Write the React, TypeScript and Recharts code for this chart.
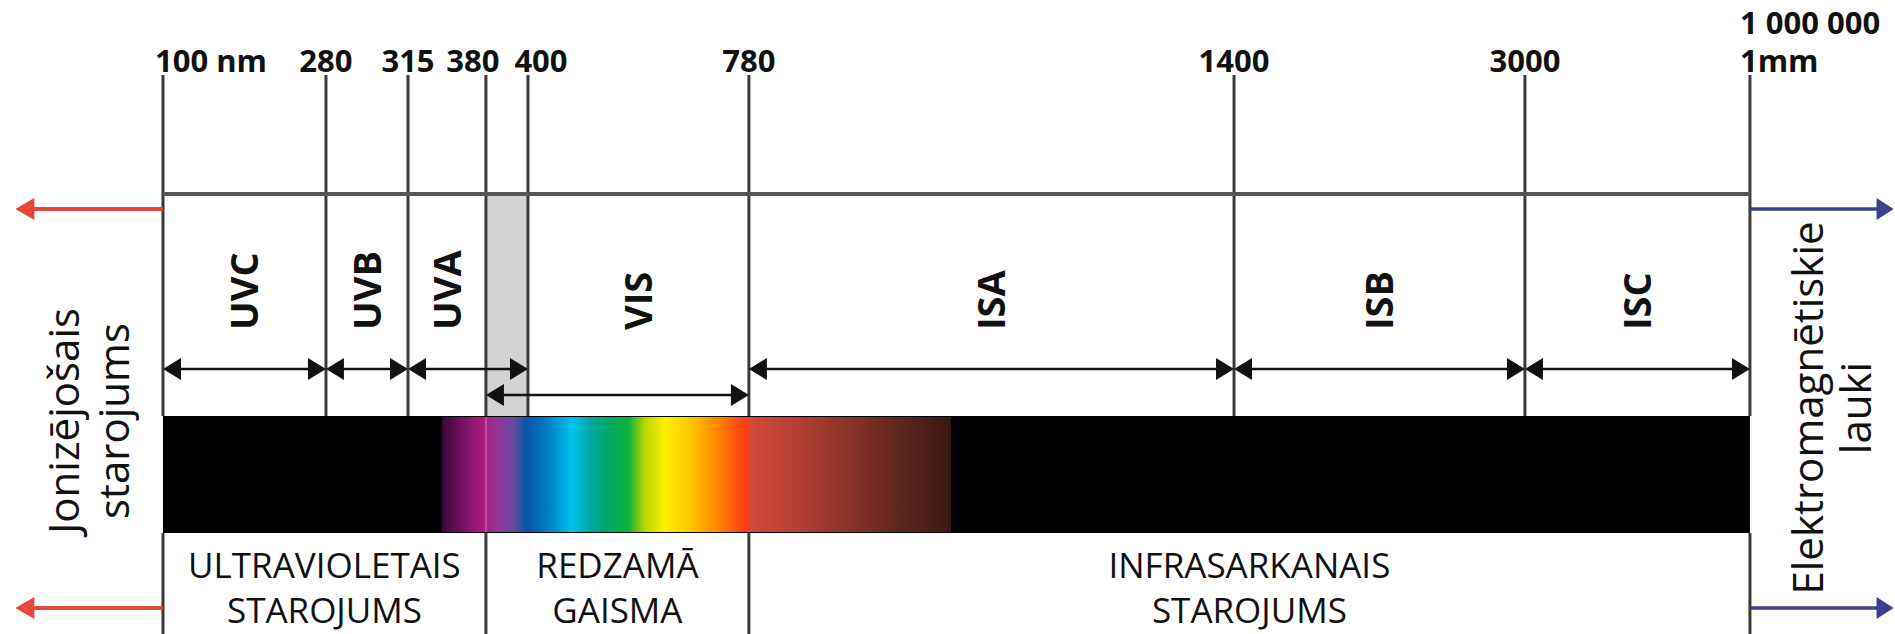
import {
  ComposedChart,
  Line,
  ReferenceArea,
  ReferenceDot,
  ReferenceLine,
  XAxis,
  YAxis,
} from "recharts";

// wavelength boundaries (nm) and where they sit on the schematic axis
// (percent of the 100 nm .. 1 mm span)
const boundaryNm = [100, 280, 315, 380, 400, 780, 1400, 3000, 1000000];
const boundaryPos = [0, 10.27, 15.44, 20.35, 23.0, 36.92, 67.49, 85.82, 100];
const boundaryLabel = ["100 nm", "280", "315", "380", "400", "780", "1400", "3000", "1 000 000|1mm"];
// boundaries whose line runs on below the spectrum bar
const dividerNm = [100, 380, 780, 1000000];

const bandName = ["UVC", "UVB", "UVA", "VIS", "ISA", "ISB", "ISC"];
const bandFromNm = [100, 280, 315, 380, 780, 1400, 3000];
const bandToNm = [280, 315, 400, 780, 1400, 3000, 1000000];
const overlapNm = [380, 400];

const regionText = [
  ["ULTRAVIOLETAIS", "STAROJUMS"],
  ["REDZAMĀ", "GAISMA"],
  ["INFRASARKANAIS", "STAROJUMS"],
];
const regionFromNm = [100, 380, 780];
const regionToNm = [380, 780, 1000000];

// colour stops of the spectrum strip (axis position, colour)
const spectrumStopPos = [
  17.58, 19.34, 20.23, 21.23, 22.18, 22.87, 24.07, 25.77, 26.91, 28.17, 29.3,
  30.37, 31.57, 33.21, 34.78, 36.36, 36.85, 36.95, 40.14, 43.29, 46.44, 49.65,
];
const spectrumStopColor = [
  "#3b0635", "#8a1670", "#a8197e", "#93389a", "#5d4aa0", "#0a55a8", "#0077c0",
  "#00c2ec", "#00a8a0", "#00a860", "#0bb23c", "#b8d600", "#fff000", "#ffc800",
  "#ff8c00", "#ff4a14", "#ff3a1c", "#d44a3a", "#b23e32", "#883228", "#5e261e", "#3a1812",
];

const leftCaption = ["Jonizējošais", "starojums"];
const rightCaption = ["Elektromagnētiskie", "lauki"];

// layout
const W = 1895;
const H = 634;
const X_DOMAIN = [-10.27, 109.14];
const TOP = 75;
const HEADER_Y = 194;
const SIDE_ARROW_Y = [209, 608];
const BAND_LABEL_Y = 330;
const BAND_ARROW_Y = 369;
const VIS_ARROW_Y = 395;
const BAR_TOP = 416;
const BAR_BOTTOM = 533;
const REGION_TEXT_Y = 578;
const FONT = "'Open Sans', 'DejaVu Sans', sans-serif";
const LINE_COLOR = "#3a3a3a";

const posOf = (nm: number) => boundaryPos[boundaryNm.indexOf(nm)];
const spectrumFrom = spectrumStopPos[0];
const spectrumTo = spectrumStopPos[spectrumStopPos.length - 1];

const headerData = boundaryPos.map((pos) => ({ pos, header: HEADER_Y }));

function arrowShape(color: string, width: number, headLen: number, headHalf: number, both: boolean) {
  return (p: any) => {
    const { x1, y1, x2, y2 } = p;
    const dir = Math.sign(x2 - x1) || 1;
    const sx = both ? x1 + dir * headLen * 0.8 : x1;
    const ex = x2 - dir * headLen * 0.8;
    return (
      <g>
        <line x1={sx} y1={y1} x2={ex} y2={y2} stroke={color} strokeWidth={width} />
        <polygon
          fill={color}
          points={`${x2},${y2} ${x2 - dir * headLen},${y2 - headHalf} ${x2 - dir * headLen},${y2 + headHalf}`}
        />
        {both && (
          <polygon
            fill={color}
            points={`${x1},${y1} ${x1 + dir * headLen},${y1 - headHalf} ${x1 + dir * headLen},${y1 + headHalf}`}
          />
        )}
      </g>
    );
  };
}

const bandArrow = arrowShape("#111", 2.6, 18, 11, true);
const redArrow = arrowShape("#e5473a", 4, 19, 11, false);
const blueArrow = arrowShape("#3b3f8c", 3.5, 17, 11, false);

function BoundaryTick(props: any) {
  const { x, payload } = props;
  const i = boundaryPos.indexOf(payload.value);
  if (i < 0) return null;
  const nm = boundaryNm[i];
  const [main, sub] = boundaryLabel[i].split("|");
  const style = { fontFamily: FONT, fontWeight: 700, fontSize: 31, fill: "#111" };
  if (sub) {
    return (
      <g>
        <text x={x - 10} y={34} textAnchor="start" style={style}>
          {main}
        </text>
        <text x={x - 10} y={72} textAnchor="start" style={style}>
          {sub}
        </text>
      </g>
    );
  }
  if (i === 0) {
    return (
      <text x={x - 8} y={72} textAnchor="start" style={style}>
        {main}
      </text>
    );
  }
  const nudge = nm === 380 ? -13 : nm === 400 ? 13 : 0;
  return (
    <text x={x + nudge} y={72} textAnchor="middle" style={style}>
      {main}
    </text>
  );
}

function rotatedCaption(lines: string[], gap: number) {
  return (p: any) => {
    const { cx, cy } = p;
    return (
      <text
        x={cx}
        y={cy}
        textAnchor="middle"
        transform={`rotate(-90 ${cx} ${cy})`}
        style={{ fontFamily: FONT, fontSize: 42, fill: "#111" }}
      >
        {lines.map((l, k) => (
          <tspan key={l} x={cx} dy={k === 0 ? 0 : gap}>
            {l}
          </tspan>
        ))}
      </text>
    );
  };
}

function bandLabel(name: string) {
  return (p: any) => {
    const { cx, cy } = p;
    const bx = cx + 14;
    return (
      <text
        x={bx}
        y={cy}
        textAnchor="start"
        transform={`rotate(-90 ${bx} ${cy})`}
        style={{ fontFamily: FONT, fontWeight: 700, fontSize: 38, fill: "#111" }}
      >
        {name}
      </text>
    );
  };
}

function regionLabel(lines: string[]) {
  return (p: any) => {
    const { cx, cy } = p;
    return (
      <text x={cx} y={cy} textAnchor="middle" style={{ fontFamily: FONT, fontSize: 35, fill: "#111" }}>
        {lines.map((l, k) => (
          <tspan key={k} x={cx} dy={k === 0 ? 0 : 45}>
            {l}
          </tspan>
        ))}
      </text>
    );
  };
}

export default function App() {
  return (
    <div style={{ position: "absolute", left: 0, top: 0, background: "#fff" }}>
      <ComposedChart width={W} height={H} data={headerData} margin={{ top: 0, right: 0, bottom: 0, left: 0 }}>
        <defs>
          <linearGradient id="spectrum" x1="0" x2="1" y1="0" y2="0">
            {spectrumStopPos.map((pos, k) => (
              <stop
                key={k}
                offset={(pos - spectrumFrom) / (spectrumTo - spectrumFrom)}
                stopColor={spectrumStopColor[k]}
              />
            ))}
          </linearGradient>
        </defs>
        <XAxis
          dataKey="pos"
          type="number"
          orientation="top"
          height={TOP}
          domain={X_DOMAIN}
          allowDataOverflow
          ticks={boundaryPos}
          interval={0}
          axisLine={false}
          tickLine={false}
          tick={<BoundaryTick />}
        />
        <YAxis type="number" domain={[TOP, H]} reversed hide allowDataOverflow />

        {/* overlap of UVA and visible light */}
        <ReferenceArea
          x1={posOf(overlapNm[0])}
          x2={posOf(overlapNm[1])}
          y1={HEADER_Y + 2}
          y2={BAR_TOP}
          fill="#d3d3d3"
          fillOpacity={1}
          stroke="none"
        />

        {/* boundary lines above the bar */}
        {boundaryPos.map((pos) => (
          <ReferenceLine
            key={`u${pos}`}
            segment={[
              { x: pos, y: TOP },
              { x: pos, y: BAR_TOP },
            ]}
            stroke={LINE_COLOR}
            strokeWidth={3}
          />
        ))}
        {/* region dividers below the bar */}
        {dividerNm.map((nm) => (
          <ReferenceLine
            key={`d${nm}`}
            segment={[
              { x: posOf(nm), y: BAR_BOTTOM },
              { x: posOf(nm), y: H },
            ]}
            stroke={LINE_COLOR}
            strokeWidth={3}
          />
        ))}

        <Line
          dataKey="header"
          stroke="#555"
          strokeWidth={4}
          dot={false}
          activeDot={false}
          isAnimationActive={false}
        />

        {/* spectrum bar */}
        <ReferenceArea x1={0} x2={100} y1={BAR_TOP} y2={BAR_BOTTOM} fill="#000" fillOpacity={1} stroke="none" />
        <ReferenceArea
          x1={spectrumFrom}
          x2={spectrumTo}
          y1={BAR_TOP + 1}
          y2={BAR_BOTTOM - 1}
          fill="url(#spectrum)"
          fillOpacity={1}
          stroke="none"
        />
        <ReferenceLine
          segment={[
            { x: posOf(overlapNm[0]), y: BAR_TOP + 1 },
            { x: posOf(overlapNm[0]), y: BAR_BOTTOM - 1 },
          ]}
          stroke="#d77cc4"
          strokeOpacity={0.7}
          strokeWidth={1.5}
        />

        {/* band extents */}
        {bandName.map((name, k) => (
          <ReferenceLine
            key={`a${name}`}
            segment={[
              { x: posOf(bandFromNm[k]), y: name === "VIS" ? VIS_ARROW_Y : BAND_ARROW_Y },
              { x: posOf(bandToNm[k]), y: name === "VIS" ? VIS_ARROW_Y : BAND_ARROW_Y },
            ]}
            shape={bandArrow}
          />
        ))}
        {bandName.map((name, k) => {
          const lo = bandFromNm[k] === overlapNm[0] ? overlapNm[1] : bandFromNm[k];
          const hi = bandToNm[k] === overlapNm[1] ? overlapNm[0] : bandToNm[k];
          return (
            <ReferenceDot
              key={`l${name}`}
              x={(posOf(lo) + posOf(hi)) / 2}
              y={BAND_LABEL_Y}
              r={0}
              shape={bandLabel(name)}
            />
          );
        })}

        {/* region names */}
        {regionText.map((lines, k) => (
          <ReferenceDot
            key={`r${k}`}
            x={(posOf(regionFromNm[k]) + posOf(regionToNm[k])) / 2}
            y={REGION_TEXT_Y}
            r={0}
            shape={regionLabel(lines)}
          />
        ))}

        {/* ionising radiation to the left, EM fields to the right */}
        {SIDE_ARROW_Y.map((y) => (
          <ReferenceLine
            key={`red${y}`}
            segment={[
              { x: 0, y },
              { x: -9.3, y },
            ]}
            shape={redArrow}
          />
        ))}
        {SIDE_ARROW_Y.map((y) => (
          <ReferenceLine
            key={`blue${y}`}
            segment={[
              { x: 100, y },
              { x: 109.05, y },
            ]}
            shape={blueArrow}
          />
        ))}
        <ReferenceDot x={-5.3} y={421} r={0} shape={rotatedCaption(leftCaption, 50)} />
        <ReferenceDot x={104.6} y={408} r={0} shape={rotatedCaption(rightCaption, 48)} />
      </ComposedChart>
    </div>
  );
}
